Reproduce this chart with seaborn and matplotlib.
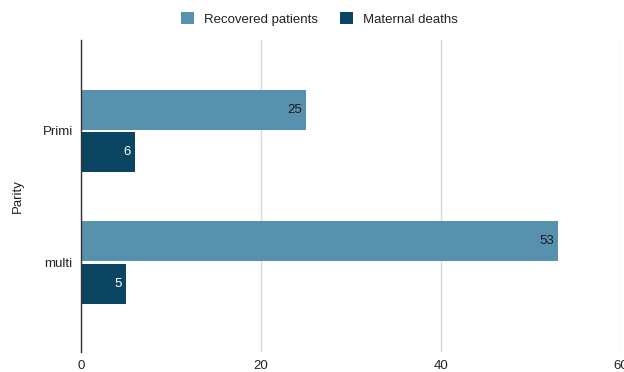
import matplotlib
matplotlib.use("Agg")
import matplotlib.pyplot as plt
import seaborn as sns
import pandas as pd
from matplotlib.patches import Patch

categories = ["Primi", "multi"]
recovered = [25, 53]
deaths = [6, 5]
series_names = ["Recovered patients", "Maternal deaths"]
colors = ["#5891AE", "#0B4561"]

df = pd.DataFrame({
    "Parity": categories * 2,
    "value": recovered + deaths,
    "series": [series_names[0]] * 2 + [series_names[1]] * 2,
})

sns.set_style("white")
plt.rcParams["font.family"] = ["Liberation Sans", "DejaVu Sans"]

FS = 9.5
fig = plt.figure(figsize=(6.24, 3.72), dpi=100)
ax = fig.add_axes([81/624, 20/372, 540/624, 312/372])

sns.barplot(data=df, y="Parity", x="value", hue="series", orient="h",
            palette=colors, width=0.64, gap=0.05, ax=ax, legend=False,
            saturation=1, edgecolor="none")

ax.set_xlim(0, 60)
ax.set_ylim(1.68, -0.69)
ax.set_xticks([0, 20, 40, 60])
ax.xaxis.grid(True, color="#d9d9d9", linewidth=1)
ax.set_axisbelow(True)
for s in ["top", "right", "bottom"]:
    ax.spines[s].set_visible(False)
ax.spines["left"].set_color("#333333")
ax.spines["left"].set_linewidth(1)
ax.tick_params(axis="both", length=0, labelsize=FS, colors="#222222")
ax.tick_params(axis="x", pad=6)
ax.tick_params(axis="y", pad=6)
ax.set_xlabel("")
ax.set_ylabel("Parity", fontsize=FS, color="#222222")
ax.yaxis.set_label_coords((24 - 81) / 540, 0.5)

text_colors = ["#1a1a1a", "#ffffff"]
for container, tc in zip(ax.containers, text_colors):
    for patch, v in zip(container.patches, container.datavalues):
        yc = patch.get_y() + patch.get_height() / 2
        ax.annotate(f"{int(v)}", xy=(v, yc), xytext=(-3, 0),
                    textcoords="offset points", ha="right", va="center",
                    color=tc, fontsize=FS)

handles = [Patch(facecolor=c, edgecolor="none") for c in colors]
fig.legend(handles, series_names, loc="center", bbox_to_anchor=(0.512, 1 - 19/372),
           ncol=2, frameon=False, fontsize=FS, handlelength=1.0, handleheight=1.0,
           columnspacing=1.6, handletextpad=0.8, labelcolor="#222222")

fig.savefig("out.png", dpi=100)
